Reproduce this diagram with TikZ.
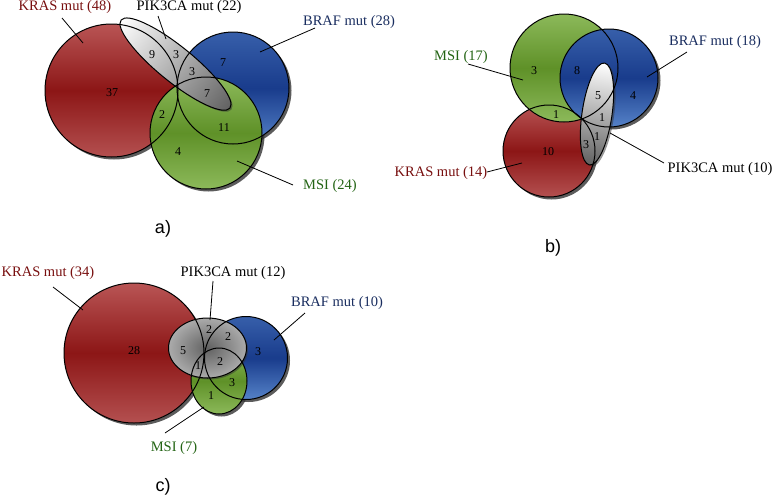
\documentclass[tikz,border=0pt]{standalone}
\usepackage{fontspec}
\setmainfont{Liberation Serif}
\newfontfamily\panelfont{Liberation Sans}
\definecolor{kr1}{RGB}{185,85,85}
\definecolor{kr2}{RGB}{140,22,22}
\definecolor{kr3}{RGB}{180,80,80}
\definecolor{br1}{RGB}{55,95,170}
\definecolor{br2}{RGB}{25,60,140}
\definecolor{br3}{RGB}{85,130,200}
\definecolor{ms1}{RGB}{140,185,90}
\definecolor{ms2}{RGB}{95,145,40}
\definecolor{ms3}{RGB}{140,185,90}
\definecolor{krtext}{RGB}{120,15,15}
\definecolor{brtext}{RGB}{25,45,95}
\definecolor{mstext}{RGB}{35,100,20}
\begin{document}
\begin{tikzpicture}[x=1pt,y=1pt,
  kras/.style={top color=kr1,bottom color=kr3,middle color=kr2},
  braf/.style={top color=br1,bottom color=br3,middle color=br2},
  msi/.style={top color=ms1,bottom color=ms3,middle color=ms2},
  shadowfill/.style={fill=black!80,opacity=0.8},
  outline/.style={draw=black,line width=1pt},
  lab/.style={font=\fontsize{14.5}{16}\selectfont,inner sep=0pt},
  num/.style={font=\fontsize{12}{13}\selectfont,inner sep=0pt,text=black},
  lead/.style={draw=black,line width=0.8pt},
  panellab/.style={font=\panelfont\fontsize{18}{20}\selectfont,inner sep=0pt}]
\useasboundingbox (0,0) rectangle (778,-496);

% ================= panel a =================
\fill[shadowfill] (114,-93) circle [radius=66.5pt];
\fill[shadowfill] (235.5,-90.5) circle [radius=56pt];
\fill[shadowfill] (208.5,-135.5) circle [radius=56pt];
\shade[kras] (111.5,-90.5) circle [radius=66.5pt];
\shade[braf] (233,-88) circle [radius=56pt];
\shade[msi] (206,-133) circle [radius=56pt];
\fill[shadowfill,opacity=0.5,transform canvas={shift={(177pt,-65.6pt)},rotate=-39}] (0,0) ellipse [x radius=70pt,y radius=17.6pt];
\shade[transform canvas={shift={(175.5pt,-64.1pt)},rotate=-39},left color=white,right color=black!62] (0,0) ellipse [x radius=70pt,y radius=17.6pt];
\draw[outline] (111.5,-90.5) circle [radius=66.5pt];
\draw[outline] (233,-88) circle [radius=56pt];
\draw[outline] (206,-133) circle [radius=56pt];
\draw[outline,transform canvas={shift={(175.5pt,-64.1pt)},rotate=-39}] (0,0) ellipse [x radius=70pt,y radius=17.6pt];

\node[num] (a9) at (152,-55) {9};
\node[num] (a3a) at (176,-55) {3};
\node[num] (a3b) at (192,-72) {3};
\node[num] (a7a) at (207,-94) {7};
\node[num] (a7b) at (223,-63) {7};
\node[num] (a37) at (112,-93) {37};
\node[num] (a2) at (162,-115) {2};
\node[num] (a11) at (224,-128) {11};
\node[num] (a4) at (178,-152) {4};

\node[lab,text=krtext] (akras) at (65,-7) {KRAS mut (48)};
\node[lab] (apik) at (189,-7) {PIK3CA mut (22)};
\node[lab,text=brtext] (abraf) at (349,-22) {BRAF mut (28)};
\node[lab,text=mstext] (amsi) at (330,-186) {MSI (24)};
\coordinate (akras1) at (62,-18); \coordinate (akras2) at (83,-43);
\coordinate (apik1) at (158,-16); \coordinate (apik2) at (166,-39);
\coordinate (abraf1) at (315,-28); \coordinate (abraf2) at (260,-52);
\coordinate (amsi1) at (293,-185); \coordinate (amsi2) at (237,-161);
\draw[lead] (akras1) -- (akras2);
\draw[lead] (apik1) -- (apik2);
\draw[lead] (abraf1) -- (abraf2);
\draw[lead] (amsi1) -- (amsi2);
\node[panellab] (pa) at (163,-229) {a)};

% ================= panel b =================
\fill[shadowfill] (551.5,-153.5) circle [radius=46pt];
\fill[shadowfill] (566.5,-70.5) circle [radius=54pt];
\fill[shadowfill] (611.5,-80.5) circle [radius=49pt];
\shade[kras] (549,-151) circle [radius=46pt];
\shade[msi] (564,-68) circle [radius=54pt];
\shade[braf] (609,-78) circle [radius=49pt];
\fill[shadowfill,opacity=0.5,transform canvas={shift={(599pt,-115.5pt)},rotate=81.6}] (0,0) ellipse [x radius=51.5pt,y radius=15pt];
\shade[transform canvas={shift={(597pt,-114pt)},rotate=81.6},left color=black!62,right color=white] (0,0) ellipse [x radius=51.5pt,y radius=15pt];
\draw[outline] (549,-151) circle [radius=46pt];
\draw[outline] (564,-68) circle [radius=54pt];
\draw[outline] (609,-78) circle [radius=49pt];
\draw[outline,transform canvas={shift={(597pt,-114pt)},rotate=81.6}] (0,0) ellipse [x radius=51.5pt,y radius=15pt];

\node[num] (b3a) at (534,-71) {3};
\node[num] (b8) at (577,-71) {8};
\node[num] (b5) at (598,-96) {5};
\node[num] (b4) at (633,-96) {4};
\node[num] (b1a) at (556,-115) {1};
\node[num] (b1b) at (602,-118) {1};
\node[num] (b1c) at (597,-137) {1};
\node[num] (b3b) at (586,-145) {3};
\node[num] (b10) at (548,-152) {10};

\node[lab,text=mstext] (bmsi) at (461,-57) {MSI (17)};
\node[lab,text=brtext] (bbraf) at (715,-42) {BRAF mut (18)};
\node[lab,text=krtext] (bkras) at (441,-173) {KRAS mut (14)};
\node[lab] (bpik) at (720,-169) {PIK3CA mut (10)};
\coordinate (bmsi1) at (468,-64); \coordinate (bmsi2) at (523,-80);
\coordinate (bbraf1) at (687,-52); \coordinate (bbraf2) at (647,-77);
\coordinate (bkras1) at (487,-172); \coordinate (bkras2) at (522,-163);
\coordinate (bpik1) at (664,-163); \coordinate (bpik2) at (610,-133);
\draw[lead] (bmsi1) -- (bmsi2);
\draw[lead] (bbraf1) -- (bbraf2);
\draw[lead] (bkras1) -- (bkras2);
\draw[lead] (bpik1) -- (bpik2);
\node[panellab] (pb) at (553,-248) {b)};

% ================= panel c =================
\fill[shadowfill] (136.5,-355.5) circle [radius=70pt];
\fill[shadowfill] (248.5,-360.5) circle [radius=41.5pt];
\fill[shadowfill] (221.5,-383.5) ellipse [x radius=28pt,y radius=33pt];
\shade[kras] (134,-353) circle [radius=70pt];
\shade[braf] (246,-358) circle [radius=41.5pt];
\shade[msi] (219,-381) ellipse [x radius=28pt,y radius=33pt];
\fill[shadowfill,opacity=0.5] (209,-349.5) ellipse [x radius=39pt,y radius=30pt];
\shade[inner color=black!62,outer color=black!33] (207.5,-348) ellipse [x radius=39pt,y radius=30pt];
\draw[outline] (134,-353) circle [radius=70pt];
\draw[outline] (246,-358) circle [radius=41.5pt];
\draw[outline] (219,-381) ellipse [x radius=28pt,y radius=33pt];
\draw[outline] (207.5,-348) ellipse [x radius=39pt,y radius=30pt];

\node[num] (c28) at (134,-351) {28};
\node[num] (c5) at (183,-351) {5};
\node[num] (c2a) at (209,-330) {2};
\node[num] (c2b) at (228,-337) {2};
\node[num] (c1a) at (198,-366) {1};
\node[num] (c2c) at (220,-362) {2};
\node[num] (c3a) at (258,-352) {3};
\node[num] (c3b) at (232,-383) {3};
\node[num] (c1b) at (211,-396) {1};

\node[lab,text=krtext] (ckras) at (48,-273) {KRAS mut (34)};
\node[lab] (cpik) at (233,-273) {PIK3CA mut (12)};
\node[lab,text=brtext] (cbraf) at (337,-303) {BRAF mut (10)};
\node[lab,text=mstext] (cmsi) at (174,-448) {MSI (7)};
\coordinate (ckras1) at (53,-287); \coordinate (ckras2) at (83,-310);
\coordinate (cpik1) at (213,-281); \coordinate (cpik2) at (210,-320);
\coordinate (cbraf1) at (305,-313); \coordinate (cbraf2) at (274,-340);
\coordinate (cmsi1) at (165,-433); \coordinate (cmsi2) at (204,-407);
\draw[lead] (ckras1) -- (ckras2);
\draw[lead] (cpik1) -- (cpik2);
\draw[lead] (cbraf1) -- (cbraf2);
\draw[lead] (cmsi1) -- (cmsi2);
\node[panellab] (pc) at (163,-487) {c)};
\end{tikzpicture}
\end{document}
